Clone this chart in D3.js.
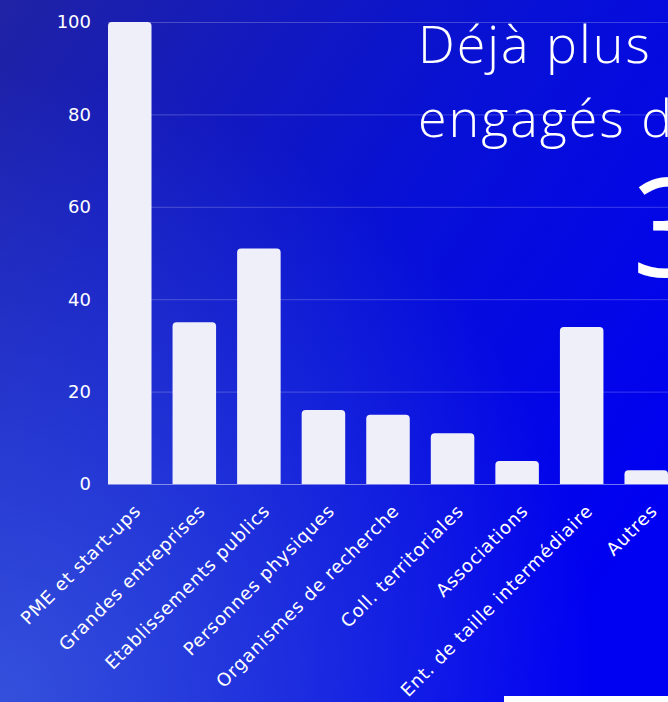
<!DOCTYPE html>
<html>
<head>
<meta charset="utf-8">
<title>Acteurs engagés</title>
<script src="https://cdnjs.cloudflare.com/ajax/libs/d3/7.8.5/d3.min.js"></script>
<style>
  html, body { margin: 0; padding: 0; overflow: hidden; }
  svg { display: block; }
</style>
</head>
<body>
<svg id="chart" width="668" height="702"></svg>
<script>

// --- data ---
let categories = ['PME et start-ups', 'Grandes entreprises', 'Etablissements publics',
                  'Personnes physiques', 'Organismes de recherche', 'Coll. territoriales',
                  'Associations', 'Ent. de taille intermédiaire', 'Autres'];
let values     = [100, 35, 51, 16, 15, 11, 5, 34, 3];
let yTicks     = [0, 20, 40, 60, 80, 100];
let titleLines = ['Déjà plus', 'engagés d'];
let bigNumber  = '3';

let W = 668, H = 702;
let svg = d3.select('#chart');

// background gradient
let defs = svg.append('defs');
let lin = defs.append('linearGradient')
      .attr('id', 'bg')
      .attr('x1', '0').attr('y1', '0')
      .attr('x2', '1').attr('y2', '0.7');
lin.append('stop').attr('offset', '0%'  ).attr('stop-color', '#2023a4');
lin.append('stop').attr('offset', '55%' ).attr('stop-color', '#0710d6');
lin.append('stop').attr('offset', '100%').attr('stop-color', '#0000f2');

let rad = defs.append('radialGradient')
      .attr('id', 'glow')
      .attr('cx', '0').attr('cy', '1').attr('r', '0.9');
rad.append('stop').attr('offset', '0%'  ).attr('stop-color', '#3550dc').attr('stop-opacity', 1);
rad.append('stop').attr('offset', '100%').attr('stop-color', '#3550dc').attr('stop-opacity', 0);

svg.append('rect').attr('width', W).attr('height', H).attr('fill', 'url(#bg)');
svg.append('rect').attr('width', W).attr('height', H).attr('fill', 'url(#glow)');

// scales
let x = d3.scaleBand()
      .domain(categories)
      .range([108, 668])
      .paddingInner(0.326)
      .paddingOuter(0);

let y = d3.scaleLinear()
      .domain([0, 100])
      .range([484, 22]);

// gridlines
svg.append('g')
   .selectAll('line')
   .data(yTicks)
   .join('line')
   .attr('x1', 108)
   .attr('x2', W)
   .attr('y1', d => y(d) + 0.5)
   .attr('y2', d => y(d) + 0.5)
   .attr('stroke', d => d === 0 ? 'rgba(255,255,255,0.45)' : 'rgba(255,255,255,0.22)')
   .attr('stroke-width', 1);

// title text (cropped on the right, as in the source)
svg.append('g')
   .selectAll('text')
   .data(titleLines)
   .join('text')
   .attr('x', 418)
   .attr('y', (d, i) => 63 + i * 74)
   .attr('fill', '#ffffff')
   .attr('font-family', 'Open Sans, sans-serif')
   .attr('font-weight', 300)
   .attr('font-size', 52)
   .attr('letter-spacing', 2)
   .text(d => d);

svg.append('text')
   .attr('x', 632)
   .attr('y', 277)
   .attr('fill', '#ffffff')
   .attr('font-family', 'Open Sans, sans-serif')
   .attr('font-weight', 400)
   .attr('font-size', 138)
   .text(bigNumber);

// bars with rounded tops
function barPath(x0, w, yTop, yBase, r) {
   r = Math.min(r, (yBase - yTop), w / 2);
   return `M${x0},${yBase}V${yTop + r}Q${x0},${yTop} ${x0 + r},${yTop}` +
          `H${x0 + w - r}Q${x0 + w},${yTop} ${x0 + w},${yTop + r}V${yBase}Z`;
}

svg.append('g')
   .selectAll('path')
   .data(values)
   .join('path')
   .attr('d', (d, i) => barPath(x(categories[i]), x.bandwidth(), y(d), y(0), 4))
   .attr('fill', '#efeffa');

// y tick labels
svg.append('g')
   .selectAll('text')
   .data(yTicks)
   .join('text')
   .attr('x', 91)
   .attr('y', d => y(d))
   .attr('dy', '0.36em')
   .attr('text-anchor', 'end')
   .attr('fill', '#ffffff')
   .attr('font-family', 'DejaVu Sans, sans-serif')
   .attr('font-size', 18)
   .text(d => d);

// x category labels, rotated
svg.append('g')
   .selectAll('text')
   .data(categories)
   .join('text')
   .attr('transform', d => `translate(${x(d) + x.bandwidth() / 2 + 3},${503}) rotate(-45)`)
   .attr('text-anchor', 'end')
   .attr('dy', '0.72em')
   .attr('fill', '#ffffff')
   .attr('font-family', 'DejaVu Sans, sans-serif')
   .attr('font-size', 18)
   .attr('letter-spacing', 0.8)
   .text(d => d);

// white strip at the bottom edge
svg.append('rect')
   .attr('x', 504).attr('y', 696)
   .attr('width', W - 504).attr('height', H - 696)
   .attr('fill', '#ffffff');

</script>
</body>
</html>
